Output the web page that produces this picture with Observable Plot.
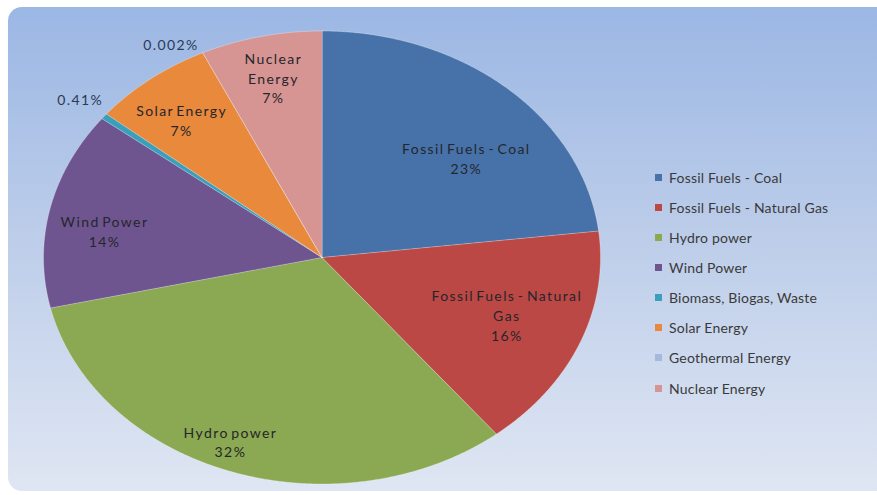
<!DOCTYPE html>
<html><head><meta charset="utf-8">
<script src="https://cdn.jsdelivr.net/npm/d3@7"></script>
<script src="https://cdn.jsdelivr.net/npm/@observablehq/plot@0.6"></script>
<style>
html,body{margin:0;padding:0;background:#fff;}
#wrap{position:relative;width:877px;height:495px;overflow:hidden;font-family:Lato,sans-serif;}
#bg{position:absolute;left:8px;top:7px;width:890px;height:484px;border-radius:14px;background:linear-gradient(180deg,#9bb7e4 0%,#bbcce9 45%,#dfe6f3 100%);}
#chart{position:absolute;left:0;top:0;}
#chart text{letter-spacing:1.4px;word-spacing:-2.5px;}
#legend{position:absolute;left:655px;top:162px;}
#legend > div{margin:0 !important;font-family:Lato,sans-serif !important;font-size:14px !important;color:#3a3a3a !important;}
#legend [class$="-swatch"]{height:30.15px;margin:0 !important;padding:0 !important;font-family:Lato,sans-serif !important;font-size:14px !important;color:#3a3a3a !important;letter-spacing:0.2px;}
#legend [class$="-swatch"] > svg{margin-right:7px !important;}
</style></head><body>
<div id="wrap"><div id="bg"></div><div id="chart"></div><div id="legend"></div></div>
<script>
const categories = ["Fossil Fuels - Coal","Fossil Fuels - Natural Gas","Hydro power","Wind Power","Biomass, Biogas, Waste","Solar Energy","Geothermal Energy","Nuclear Energy"];
const values = [23, 16, 32, 14, 0.41, 7, 0.002, 7];
const percentLabels = ["23%","16%","32%","14%","0.41%","7%","0.002%","7%"];
const sliceNames = ["Fossil Fuels - Coal","Fossil Fuels - Natural\nGas","Hydro power","Wind Power","","Solar Energy","","Nuclear\nEnergy"];
const colors = ["#4672a9","#bb4845","#8ba852","#6f5590","#3a9fbb","#e8893c","#a6b9dc","#d69593"];

const rows = categories.map((name, i) => ({name, value: values[i], pct: percentLabels[i], label: sliceNames[i]}));
const arcs = d3.pie().sort(null).value(d => d.value)(rows);

// slice outlines in unit-circle coordinates (scaled to an ellipse by the x/y scales)
const slicePts = [];
for (const a of arcs) {
  const n = Math.max(2, Math.ceil((a.endAngle - a.startAngle) / 0.005));
  slicePts.push({name: a.data.name, x: 0, y: 0});
  for (let k = 0; k <= n; k++) {
    const t = a.startAngle + (a.endAngle - a.startAngle) * k / n;
    slicePts.push({name: a.data.name, x: Math.sin(t), y: Math.cos(t)});
  }
}

// label placement: [radial distance relative to radius, angle shift from slice middle in degrees]
const labelPlacement = {
  "Fossil Fuels - Coal": [0.68, 8],
  "Fossil Fuels - Natural Gas": [0.71, -1.4],
  "Hydro power": [0.875, 2.9],
  "Wind Power": [0.79, -3.8],
  "Biomass, Biogas, Waste": [1.11, 0],
  "Solar Energy": [0.79, -1.6],
  "Geothermal Energy": [1.08, -4.8],
  "Nuclear Energy": [0.814, 0.3]
};
const labelPts = arcs.map(a => {
  const [r, shift] = labelPlacement[a.data.name];
  const mid = (a.startAngle + a.endAngle) / 2 + shift * Math.PI / 180;
  const text = a.data.label ? a.data.label + "\n" + a.data.pct : a.data.pct;
  return {x: r * Math.sin(mid), y: r * Math.cos(mid), text, outside: r > 1};
});

const chart = Plot.plot({
  width: 877, height: 495, margin: 0,
  x: {domain: [-1, 1], range: [43, 600], axis: null},
  y: {domain: [-1, 1], range: [483.5, 30.5], axis: null},
  color: {domain: categories, range: colors},
  style: {background: "transparent", overflow: "visible"},
  marks: [
    Plot.line(slicePts, {x: "x", y: "y", z: "name", fill: "name", stroke: "#ffffff", strokeOpacity: 0.4, strokeWidth: 0.7, curve: "linear-closed"}),
    Plot.text(labelPts.filter(d => !d.outside), {x: "x", y: "y", text: "text", fontSize: 14, lineHeight: 1.4, fill: "#25262b", fontFamily: "Lato"}),
    Plot.text(labelPts.filter(d => d.outside), {x: "x", y: "y", text: "text", fontSize: 14, fill: "#2b3a55", fontFamily: "Lato"})
  ]
});
document.getElementById("chart").append(chart);

const legend = Plot.legend({color: {domain: categories, range: colors}, legend: "swatches", columns: 1, swatchSize: 7, className: "lg"});
document.getElementById("legend").append(legend);
</script>
</body></html>
